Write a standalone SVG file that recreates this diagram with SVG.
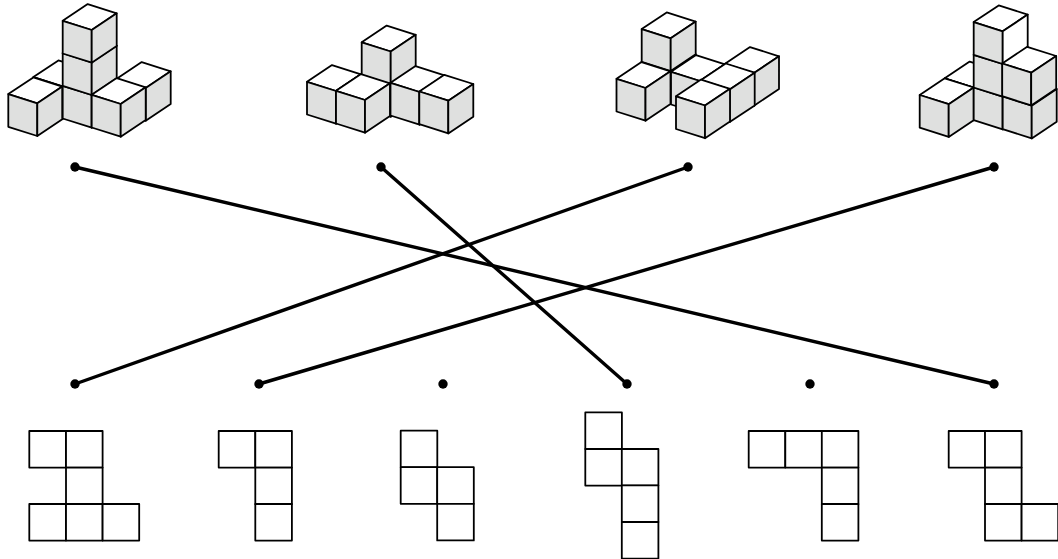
<svg xmlns="http://www.w3.org/2000/svg" width="1058" height="559" viewBox="0 0 1058 559">
<style>
.top{fill:#fff}
.side{fill:#dfe0df}
.cube *{stroke:#000;stroke-width:1.8;stroke-linejoin:round}
.sq{fill:#fff;stroke:#000;stroke-width:1.8;stroke-linejoin:round}
.link{stroke:#000;stroke-width:3.4;stroke-linecap:round;fill:none}
.dot{fill:#000}
</style>
<defs>
<g id="cube" class="cube">
<polygon class="top" points="0,0 -29,-9.2 -4,-25.9 25,-16.7"/>
<polygon class="side" points="0,0 -29,-9.2 -29,23.5 0,32.7"/>
<polygon class="side" points="0,0 25,-16.7 25,16 0,32.7"/>
</g>
<g id="cubew" class="cube">
<polygon class="top" points="0,0 -29,-9.2 -4,-25.9 25,-16.7"/>
<polygon class="side" points="0,0 -29,-9.2 -29,23.5 0,32.7"/>
<polygon class="top" points="0,0 25,-16.7 25,16 0,32.7"/>
</g>
<rect id="s" class="sq" width="36.6" height="36.6"/>
</defs>
<g id="connectors">
<line class="link" x1="75" y1="167" x2="994" y2="384"/>
<line class="link" x1="381" y1="167" x2="627" y2="384"/>
<line class="link" x1="688" y1="167" x2="75" y2="384"/>
<line class="link" x1="994" y1="167" x2="259" y2="384"/>
</g>
<g id="solid-1">
<use href="#cube" x="62.4" y="86.3"/>
<use href="#cube" x="145.7" y="88"/>
<use href="#cube" x="37.3" y="103.3"/>
<use href="#cube" x="91.7" y="95"/>
<use href="#cube" x="91.7" y="62.3"/>
<use href="#cube" x="120.7" y="104"/>
<use href="#cube" x="91.7" y="30"/>
<circle class="dot" cx="75" cy="167" r="4.7"/>
</g>
<g id="solid-2">
<use href="#cube" x="390.7" y="84"/>
<use href="#cube" x="390.7" y="51.5"/>
<use href="#cube" x="336" y="91"/>
<use href="#cube" x="365" y="100"/>
<use href="#cube" x="419.5" y="92"/>
<use href="#cube" x="448.3" y="100.7"/>
<circle class="dot" cx="381" cy="167" r="4.7"/>
</g>
<g id="solid-3">
<use href="#cube" x="670.7" y="71"/>
<use href="#cube" x="670.7" y="38.3"/>
<use href="#cube" x="645.5" y="88"/>
<use href="#cube" x="700" y="81"/>
<use href="#cube" x="754" y="73"/>
<use href="#cube" x="729.7" y="89.4"/>
<use href="#cube" x="705" y="105.5"/>
<circle class="dot" cx="688" cy="167" r="4.7"/>
</g>
<g id="solid-4">
<use href="#cube" x="973.7" y="87.5"/>
<use href="#cube" x="948.7" y="104.2"/>
<use href="#cube" x="1002.7" y="96.7"/>
<use href="#cube" x="1002.7" y="64"/>
<use href="#cubew" x="1002.7" y="31.3"/>
<use href="#cube" x="1031.7" y="105.7"/>
<use href="#cube" x="1031.2" y="72.7"/>
<circle class="dot" cx="994" cy="167" r="4.7"/>
</g>
<g id="net-1">
<use href="#s" x="29.3" y="431"/><use href="#s" x="66" y="431"/>
<use href="#s" x="66" y="467.6"/>
<use href="#s" x="29.3" y="504"/><use href="#s" x="66" y="504"/><use href="#s" x="102.6" y="504"/>
<circle class="dot" cx="75" cy="384" r="4.7"/>
</g>
<g id="net-2">
<use href="#s" x="218.7" y="431"/><use href="#s" x="255.3" y="431"/>
<use href="#s" x="255.3" y="467.6"/><use href="#s" x="255.3" y="504"/>
<circle class="dot" cx="259" cy="384" r="4.7"/>
</g>
<g id="net-3">
<use href="#s" x="400.7" y="430.7"/><use href="#s" x="400.7" y="467.2"/>
<use href="#s" x="437.2" y="467.2"/><use href="#s" x="437.2" y="503.8"/>
<circle class="dot" cx="443" cy="384" r="4.7"/>
</g>
<g id="net-4">
<use href="#s" x="585.3" y="412.4"/><use href="#s" x="585.3" y="449"/>
<use href="#s" x="621.8" y="449"/><use href="#s" x="621.8" y="485.4"/><use href="#s" x="621.8" y="522"/>
<circle class="dot" cx="627" cy="384" r="4.7"/>
</g>
<g id="net-5">
<use href="#s" x="748.7" y="431"/><use href="#s" x="785.3" y="431"/><use href="#s" x="821.8" y="431"/>
<use href="#s" x="821.8" y="467.6"/><use href="#s" x="821.8" y="504"/>
<circle class="dot" cx="810" cy="384" r="4.7"/>
</g>
<g id="net-6">
<use href="#s" x="948.7" y="431"/><use href="#s" x="985" y="431"/>
<use href="#s" x="985" y="467.6"/><use href="#s" x="985" y="504"/><use href="#s" x="1021.6" y="504"/>
<circle class="dot" cx="994" cy="384" r="4.7"/>
</g>
</svg>
